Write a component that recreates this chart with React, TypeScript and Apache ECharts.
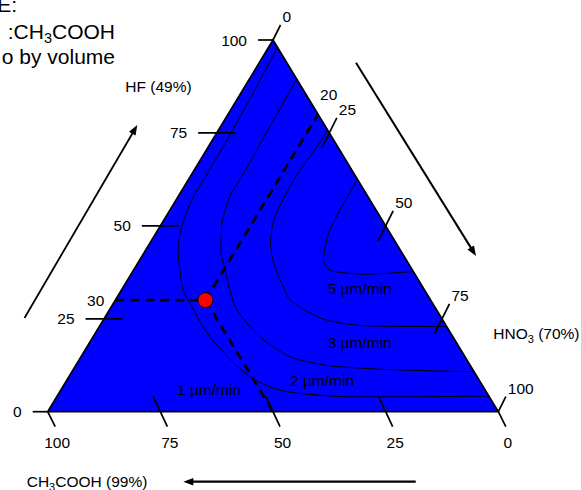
import React, { useEffect, useRef } from 'react';
import * as echarts from 'echarts';

const WIDTH = 581;
const HEIGHT = 490;

// ---- data ----
const HF_TICKS = [0, 25, 50, 75, 100];
const HNO3_TICKS = [0, 25, 50, 75, 100];
const CH3COOH_TICKS = [100, 75, 50, 25, 0];

const HF_TITLE = 'HF (49%)';
const HNO3_TITLE = 'HNO{s|3} (70%)';
const CH3COOH_TITLE = 'CH{s|3}COOH (99%)';
const NOTE_LINES = ['E:', ':CH{s|3}COOH', 'o by volume'];

const SELECTED_HF = 30;
const SELECTED_HNO3 = 20;
const SELECTED_CH3COOH = 50;

// etch-rate contours, points as [HNO3 %, HF %] (CH3COOH = remainder)
const RATE_1 = [[2, 98], [3, 80], [3.4, 65], [3.4, 58], [4.8, 50], [7.2, 43.5], [10.3, 38.1], [13.7, 32.7], [17, 29.2], [23.9, 22], [30.9, 16.1], [40.2, 9.4], [48.6, 5.8], [57.5, 4.5], [65.1, 4.0], [76, 4.0], [95.8, 4.2]];
const RATE_2 = [[10.5, 89.5], [11, 75], [11.4, 65.5], [11.5, 57.8], [13.7, 49.8], [16.7, 43.5], [20.3, 38.1], [24.1, 32.7], [28.3, 27.4], [37, 20.2], [46.4, 14.8], [54.9, 12.6], [61.1, 11.9], [72.6, 11.2], [89.2, 10.8]];
const RATE_3 = [[24.2, 75.8], [24.1, 71.3], [23.5, 65], [23.5, 60.5], [24.2, 52.5], [26.8, 45.3], [30.9, 39], [36.3, 32.7], [38.7, 30.1], [46.9, 25.6], [52.9, 23.9], [59.3, 23.1], [77.1, 22.9]];
const RATE_5 = [[37.5, 62.5], [37.7, 54.3], [38.2, 48.9], [38.8, 46.2], [40.8, 40.8], [43.6, 38.1], [46.1, 37.5], [51.5, 37.0], [62.3, 37.7]];
const RATE_LABELS = ['1 µm/min', '2 µm/min', '3 µm/min', '5 µm/min'];

// ---- layout ----
const PLOT_LEFT = 47.7;
const PLOT_RIGHT = 498.3;
const PLOT_TOP = 40;
const PLOT_BOTTOM = 411.7;
const SX = (PLOT_RIGHT - PLOT_LEFT) / 100;
const SY = (PLOT_BOTTOM - PLOT_TOP) / 100;
const RATE_LABEL_POS = [[209, 389.3], [322, 380.7], [359.7, 342.3], [359.7, 288.3]];

const FAMILY = '"Liberation Sans", Arial, Helvetica, sans-serif';
const FONT = `15.5px ${FAMILY}`;
const SUB_FONT = `11px ${FAMILY}`;
const NOTE_FONT = `21px ${FAMILY}`;
const NOTE_SUB_FONT = `14.5px ${FAMILY}`;

const toXY = (hno3: number, hf: number) => [hno3 + hf / 2, hf];

function textEl(x: number, y: number, text: string, align: string, font = FONT, subFont = SUB_FONT, lh = 22, subLh = 11) {
  return {
    type: 'text',
    x,
    y,
    z: 20,
    silent: true,
    style: {
      text,
      font,
      fill: '#000',
      align,
      textAlign: align,
      verticalAlign: 'middle',
      textVerticalAlign: 'middle',
      lineHeight: lh,
      rich: {
        s: { font: subFont, lineHeight: subLh, verticalAlign: 'bottom', fill: '#000' },
      },
    },
  };
}

function arrow(x1: number, y1: number, x2: number, y2: number, lw: number) {
  const dx = x2 - x1;
  const dy = y2 - y1;
  const len = Math.hypot(dx, dy);
  const ux = dx / len;
  const uy = dy / len;
  const L = 10;
  const w = 3.8;
  const bx = x2 - ux * L;
  const by = y2 - uy * L;
  return [
    { type: 'line', z: 20, silent: true, shape: { x1, y1, x2: x2 - ux * L * 0.6, y2: y2 - uy * L * 0.6 }, style: { stroke: '#000', lineWidth: lw } },
    { type: 'polygon', z: 20, silent: true, shape: { points: [[x2, y2], [bx - uy * w, by + ux * w], [bx + uy * w, by - ux * w]] }, style: { fill: '#000' } },
  ];
}

function tickText(x: number, y: number, text: string, align: string) {
  return {
    type: 'text',
    style: { text, x, y, font: FONT, fill: '#000', align, textAlign: align, verticalAlign: 'middle', textVerticalAlign: 'middle' },
  };
}

export default function App() {
  const ref = useRef<HTMLDivElement>(null);

  useEffect(() => {
    if (!ref.current) return;
    document.body.style.margin = '0';
    document.body.style.padding = '0';
    const chart = echarts.init(ref.current, undefined, { renderer: 'svg', width: WIDTH, height: HEIGHT });

    const contour = (pts: number[][]) => ({
      type: 'line',
      data: pts.map((p) => toXY(p[0], p[1])),
      smooth: 0.3,
      symbol: 'none',
      silent: true,
      z: 3,
      lineStyle: { color: '#000', width: 1 },
    });

    const dashed = (a: number[], b: number[]) => ({
      type: 'line',
      data: [a, b],
      symbol: 'none',
      silent: true,
      z: 4,
      lineStyle: { color: '#000', width: 2.7, type: [9, 6] },
    });

    const P = toXY(SELECTED_HNO3, SELECTED_HF);
    const tickStyle = { stroke: '#000', lineWidth: 1.7 };

    const option: any = {
      animation: false,
      grid: { left: 0, right: 0, top: 0, bottom: 0 },
      xAxis: { type: 'value', show: false, min: -PLOT_LEFT / SX, max: (WIDTH - PLOT_LEFT) / SX },
      yAxis: { type: 'value', show: false, min: -(HEIGHT - PLOT_BOTTOM) / SY, max: PLOT_BOTTOM / SY },
      tooltip: { show: false },
      series: [
        {
          type: 'custom',
          coordinateSystem: 'cartesian2d',
          silent: true,
          z: 1,
          data: [[0, 0]],
          renderItem: (_p: any, api: any) => {
            const pts = [toXY(0, 0), toXY(100, 0), toXY(0, 100)].map((d) => api.coord(d));
            return {
              type: 'polygon',
              shape: { points: pts },
              style: { fill: '#0000ff', stroke: '#000', lineWidth: 1.7 },
            };
          },
        },
        contour(RATE_1),
        contour(RATE_2),
        contour(RATE_3),
        contour(RATE_5),
        dashed(toXY(0, SELECTED_HF), P),
        dashed(P, toXY(SELECTED_HNO3, 100 - SELECTED_HNO3)),
        dashed(P, toXY(100 - SELECTED_CH3COOH, 0)),
        // HF axis (left edge)
        {
          type: 'custom',
          coordinateSystem: 'cartesian2d',
          silent: true,
          z: 5,
          data: HF_TICKS.map((t) => [...toXY(0, t), t]),
          renderItem: (_p: any, api: any) => {
            const t = api.value(2);
            const [px, py] = api.coord([api.value(0), api.value(1)]);
            const end = t === 0 || t === 100;
            const x1 = end ? px - 15 : px - 18.5;
            const x2 = end ? px : px + 18.5;
            return {
              type: 'group',
              children: [
                { type: 'line', shape: { x1, y1: py, x2, y2: py }, style: tickStyle },
                tickText(x1 - 11, py, String(t), 'right'),
              ],
            };
          },
        },
        // CH3COOH axis (base)
        {
          type: 'custom',
          coordinateSystem: 'cartesian2d',
          silent: true,
          z: 5,
          data: CH3COOH_TICKS.map((c) => [...toXY(100 - c, 0), c]),
          renderItem: (_p: any, api: any) => {
            const c = api.value(2);
            const [px, py] = api.coord([api.value(0), api.value(1)]);
            const end = c === 0 || c === 100;
            const s = end ? { x1: px, y1: py, x2: px + 7.5, y2: py + 15 } : { x1: px - 7, y1: py - 15, x2: px + 7, y2: py + 15 };
            return {
              type: 'group',
              children: [
                { type: 'line', shape: s, style: tickStyle },
                tickText(px + 9.5, py + 31, String(c), 'center'),
              ],
            };
          },
        },
        // HNO3 axis (right edge)
        {
          type: 'custom',
          coordinateSystem: 'cartesian2d',
          silent: true,
          z: 5,
          data: HNO3_TICKS.map((h) => [...toXY(h, 100 - h), h]),
          renderItem: (_p: any, api: any) => {
            const h = api.value(2);
            const [px, py] = api.coord([api.value(0), api.value(1)]);
            const end = h === 0 || h === 100;
            const s = end ? { x1: px, y1: py, x2: px + 7.5, y2: py - 15 } : { x1: px - 7.5, y1: py + 15, x2: px + 7.5, y2: py - 15 };
            return {
              type: 'group',
              children: [
                { type: 'line', shape: s, style: tickStyle },
                tickText(px + 9.5, py - 23.5, String(h), 'left'),
              ],
            };
          },
        },
        // labels of the selected composition on the edges
        {
          type: 'custom',
          coordinateSystem: 'cartesian2d',
          silent: true,
          z: 5,
          data: [
            [...toXY(0, SELECTED_HF), SELECTED_HF, 0],
            [...toXY(SELECTED_HNO3, 100 - SELECTED_HNO3), SELECTED_HNO3, 1],
          ],
          renderItem: (_p: any, api: any) => {
            const [px, py] = api.coord([api.value(0), api.value(1)]);
            const side = api.value(3);
            return side === 0
              ? tickText(px - 11, py, String(api.value(2)), 'right')
              : tickText(px + 2, py - 20, String(api.value(2)), 'left');
          },
        },
        {
          type: 'scatter',
          silent: true,
          z: 6,
          data: [P],
          symbolSize: 15,
          itemStyle: { color: '#ff0000', borderColor: '#000', borderWidth: 1, opacity: 1 },
        },
      ],
      graphic: [
        textEl(158.5, 86.5, HF_TITLE, 'center'),
        textEl(493.3, 333.3, HNO3_TITLE, 'left'),
        textEl(26.7, 481.7, CH3COOH_TITLE, 'left'),
        textEl(17, 4.5, NOTE_LINES[0], 'right', NOTE_FONT, NOTE_SUB_FONT, 28, 14),
        textEl(115, 31.5, NOTE_LINES[1], 'right', NOTE_FONT, NOTE_SUB_FONT, 28, 14),
        textEl(115, 56.8, NOTE_LINES[2], 'right', NOTE_FONT, NOTE_SUB_FONT, 28, 14),
        ...RATE_LABELS.map((t, i) => textEl(RATE_LABEL_POS[i][0], RATE_LABEL_POS[i][1], t, 'center')),
        ...arrow(24.5, 318, 137.3, 125, 1.8),
        ...arrow(356, 62.7, 476, 256, 2),
        ...arrow(415.7, 481.7, 183.3, 481.7, 2.2),
      ],
    };

    chart.setOption(option);
    return () => chart.dispose();
  }, []);

  return <div ref={ref} style={{ width: WIDTH, height: HEIGHT, background: '#fff' }} />;
}
